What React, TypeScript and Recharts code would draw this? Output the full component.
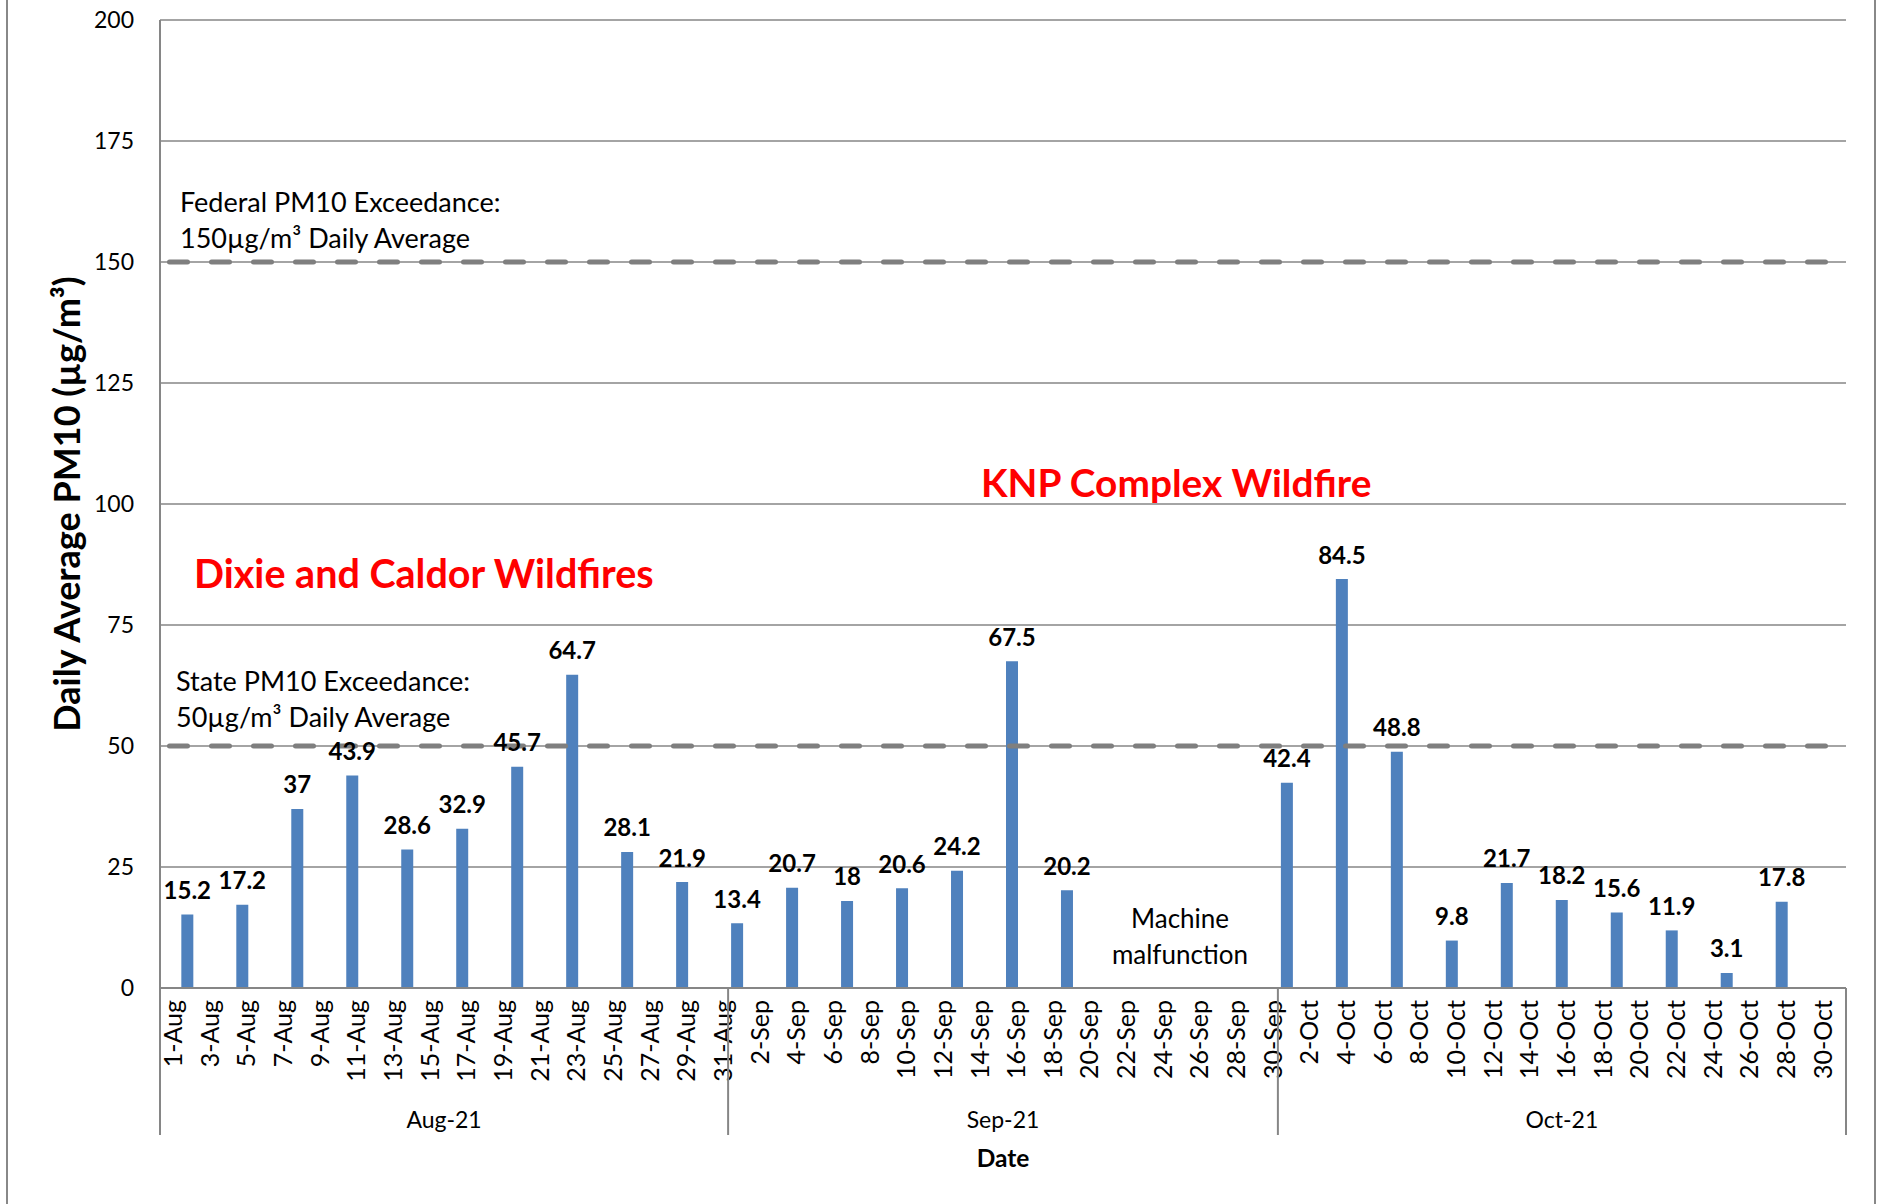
import { BarChart, Bar, XAxis, YAxis, CartesianGrid, ReferenceLine, LabelList } from 'recharts';

const W = 1877;
const H = 1204;
const PLOT_LEFT = 160;
const PLOT_RIGHT = 1846;
const PLOT_TOP = 20;
const PLOT_BOTTOM = 988;
const FONT = 'Lato, "Open Sans", sans-serif';
const GRID = '#868686';

const months = [
  { key: 'Aug', label: 'Aug-21', days: 31 },
  { key: 'Sep', label: 'Sep-21', days: 30 },
  { key: 'Oct', label: 'Oct-21', days: 31 },
];

// 1-in-3 day sampling schedule; 22, 25, 28-Sep lost to the machine malfunction
const sampleDates = [
  '2-Aug', '5-Aug', '8-Aug', '11-Aug', '14-Aug', '17-Aug', '20-Aug', '23-Aug', '26-Aug', '29-Aug',
  '1-Sep', '4-Sep', '7-Sep', '10-Sep', '13-Sep', '16-Sep', '19-Sep',
  '1-Oct', '4-Oct', '7-Oct', '10-Oct', '13-Oct', '16-Oct', '19-Oct', '22-Oct', '25-Oct', '28-Oct',
];
const pm10Values = [
  15.2, 17.2, 37, 43.9, 28.6, 32.9, 45.7, 64.7, 28.1, 21.9,
  13.4, 20.7, 18, 20.6, 24.2, 67.5, 20.2,
  42.4, 84.5, 48.8, 9.8, 21.7, 18.2, 15.6, 11.9, 3.1, 17.8,
];

const yTicks = [0, 25, 50, 75, 100, 125, 150, 175, 200];
const stateLimit = 50;
const federalLimit = 150;

const data = months.flatMap((m) =>
  Array.from({ length: m.days }, (_, i) => {
    const date = `${i + 1}-${m.key}`;
    const k = sampleDates.indexOf(date);
    return { date, day: i + 1, month: m, value: k >= 0 ? pm10Values[k] : null };
  })
);

const HALF = (PLOT_RIGHT - PLOT_LEFT) / data.length / 2;

function DateTick(props: any) {
  const { x, payload } = props;
  const idx = payload.index;
  const entry = data[idx];
  if (!entry) return null;
  const m = entry.month;
  const mid = Math.ceil(m.days / 2);
  const out: any[] = [];
  // every other day label, counted across the whole range
  if (idx % 2 === 0) {
    out.push(
      <text
        key="d"
        transform={`translate(${x + 3},${PLOT_BOTTOM + 12}) rotate(-90)`}
        textAnchor="end"
        dominantBaseline="central"
        fontSize={25}
        fill="#000"
      >
        {entry.date}
      </text>
    );
  }
  if (entry.day === 1) {
    out.push(<line key="s" x1={x - HALF} x2={x - HALF} y1={PLOT_BOTTOM} y2={1135} stroke={GRID} strokeWidth={2} />);
  }
  if (idx === data.length - 1) {
    out.push(<line key="e" x1={x + HALF} x2={x + HALF} y1={PLOT_BOTTOM} y2={1135} stroke={GRID} strokeWidth={2} />);
  }
  if (entry.day === mid) {
    const cx = m.days % 2 === 0 ? x + HALF : x;
    out.push(
      <text key="m" x={cx} y={1119} textAnchor="middle" dominantBaseline="central" fontSize={23} fill="#000">
        {m.label}
      </text>
    );
  }
  return <g>{out}</g>;
}

function ValueLabel(props: any) {
  const { x, y, width, value } = props;
  if (value === null || value === undefined) return null;
  return (
    <text x={x + width / 2} y={y - 25} textAnchor="middle" dominantBaseline="central" fontSize={24} fontWeight="bold" fill="#000">
      {value}
    </text>
  );
}

const abs = (left: number, top: number, extra: any = {}) => ({
  position: 'absolute' as const,
  left,
  top,
  whiteSpace: 'nowrap' as const,
  lineHeight: 1,
  ...extra,
});

export default function App() {
  return (
    <div style={{ position: 'absolute', left: 0, top: 0, width: W, height: H, background: '#fff', fontFamily: FONT, color: '#000' }}>
      <BarChart
        width={W}
        height={H}
        data={data}
        margin={{ top: PLOT_TOP, right: W - PLOT_RIGHT, bottom: 0, left: 0 }}
        style={{ fontFamily: FONT }}
      >
        <CartesianGrid vertical={false} stroke={GRID} strokeWidth={1.5} />
        <XAxis
          dataKey="date"
          interval={0}
          height={H - PLOT_BOTTOM}
          tickLine={false}
          tickSize={0}
          axisLine={{ stroke: GRID, strokeWidth: 2 }}
          tick={<DateTick />}
        />
        <YAxis
          width={PLOT_LEFT}
          domain={[0, 200]}
          ticks={yTicks}
          tickLine={false}
          tickSize={0}
          tickMargin={26}
          axisLine={{ stroke: GRID, strokeWidth: 2 }}
          tick={{ fontSize: 23, fill: '#000' }}
        />
        <ReferenceLine
          y={stateLimit}
          stroke="#7f7f7f"
          strokeWidth={5}
          strokeDasharray="18 24"
          strokeDashoffset={32.5}
          strokeLinecap="round"
        />
        <ReferenceLine
          y={federalLimit}
          stroke="#7f7f7f"
          strokeWidth={5}
          strokeDasharray="18 24"
          strokeDashoffset={32.5}
          strokeLinecap="round"
        />
        <Bar dataKey="value" fill="#4f81bd" barSize={12} isAnimationActive={false}>
          <LabelList dataKey="value" content={<ValueLabel />} />
        </Bar>
      </BarChart>

      {/* chart frame */}
      <div style={{ position: 'absolute', left: 6, top: 0, width: 2, height: H, background: '#888' }} />
      <div style={{ position: 'absolute', left: 1874, top: 0, width: 2, height: H, background: '#888' }} />

      <div style={abs(66, 504, { transform: 'translate(-50%, -50%) rotate(-90deg)', fontSize: 36, fontWeight: 'bold' })}>
        Daily Average PM10 (µg/m³)
      </div>
      <div style={abs(1003, 1158, { transform: 'translate(-50%, -50%)', fontSize: 24.5, fontWeight: 'bold' })}>Date</div>

      <div style={abs(180, 201, { transform: 'translateY(-50%)', fontSize: 27 })}>Federal PM10 Exceedance:</div>
      <div style={abs(180, 237, { transform: 'translateY(-50%)', fontSize: 27 })}>150µg/m³ Daily Average</div>
      <div style={abs(176, 680, { transform: 'translateY(-50%)', fontSize: 27 })}>State PM10 Exceedance:</div>
      <div style={abs(176, 716, { transform: 'translateY(-50%)', fontSize: 27 })}>50µg/m³ Daily Average</div>
      <div style={abs(1180, 918, { transform: 'translate(-50%, -50%)', fontSize: 26 })}>Machine</div>
      <div style={abs(1180, 954, { transform: 'translate(-50%, -50%)', fontSize: 26 })}>malfunction</div>

      <div style={abs(194, 573, { transform: 'translateY(-50%)', fontSize: 39.5, fontWeight: 'bold', color: '#ff0000' })}>
        Dixie and Caldor Wildfires
      </div>
      <div style={abs(981, 482, { transform: 'translateY(-50%)', fontSize: 38.8, fontWeight: 'bold', color: '#ff0000' })}>
        KNP Complex Wildfire
      </div>
    </div>
  );
}
